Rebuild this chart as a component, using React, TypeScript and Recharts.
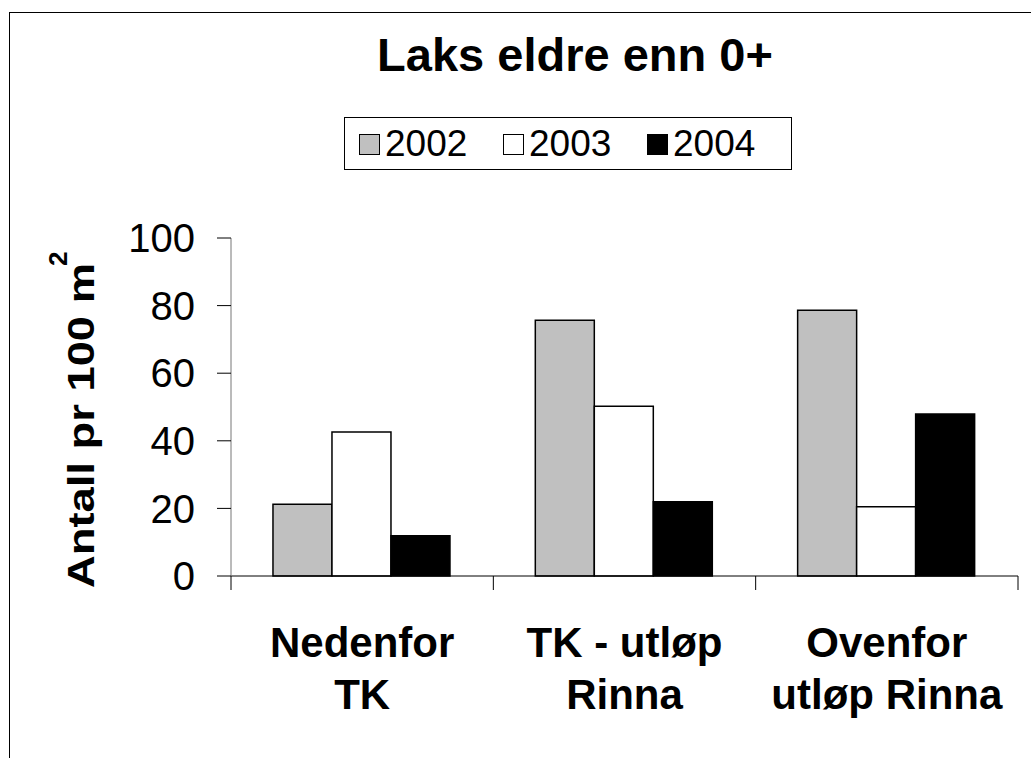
import { Bar, BarChart, XAxis, YAxis } from "recharts";

const CATEGORIES = ["Nedenfor\nTK", "TK - utløp\nRinna", "Ovenfor\nutløp Rinna"];
const YEARS = ["2002", "2003", "2004"];
const VALUES_2002 = [21.2, 75.7, 78.6];
const VALUES_2003 = [42.6, 50.2, 20.5];
const VALUES_2004 = [11.9, 22.0, 47.9];
const Y_TICKS = [0, 20, 40, 60, 80, 100];
const FILLS = ["#c0c0c0", "#ffffff", "#000000"];

const FONT = "'Liberation Sans', Arial, Helvetica, sans-serif";

const SERIES = [VALUES_2002, VALUES_2003, VALUES_2004];

const data = CATEGORIES.map((name, i) => {
  const row: Record<string, string | number> = { name };
  YEARS.forEach((year, s) => {
    row[year] = SERIES[s][i];
  });
  return row;
});

const CHART_W = 1031;
const CHART_H = 758;
const MARGIN = { top: 238, right: 13, bottom: 0, left: 131 };
const Y_AXIS_W = 100;
const X_AXIS_H = 182;
const PLOT_W = CHART_W - MARGIN.left - MARGIN.right - Y_AXIS_W;
const BAND = PLOT_W / CATEGORIES.length;

// two-line category label plus tick marks on the category boundaries
function CategoryTick(props: any) {
  const { x, y, payload, index } = props;
  const lines = String(payload.value).split("\n");
  const left = x - BAND / 2;
  const right = x + BAND / 2;
  return (
    <g>
      <line x1={left} x2={left} y1={y} y2={y + 14} stroke="#000" />
      {index === CATEGORIES.length - 1 && (
        <line x1={right} x2={right} y1={y} y2={y + 14} stroke="#000" />
      )}
      <text
        x={x}
        y={y}
        textAnchor="middle"
        fontFamily={FONT}
        fontSize={42}
        fontWeight={700}
        fill="#000"
      >
        {lines.map((line, i) => (
          <tspan key={i} x={x} dy={i === 0 ? 81 : 52}>
            {line}
          </tspan>
        ))}
      </text>
    </g>
  );
}

function Legend() {
  return (
    <div
      style={{
        position: "absolute",
        left: 344,
        top: 117,
        width: 448,
        height: 53,
        boxSizing: "border-box",
        border: "1px solid #000",
        display: "flex",
        alignItems: "center",
        paddingLeft: 14,
        fontFamily: FONT,
        fontSize: 37,
        lineHeight: 1,
        background: "#fff",
      }}
    >
      {YEARS.map((year, i) => (
        <div
          key={year}
          style={{ display: "flex", alignItems: "center", width: 148 }}
        >
          <div
            style={{
              width: 21,
              height: 21,
              boxSizing: "border-box",
              border: "1.5px solid #000",
              background: FILLS[i],
              marginRight: 5,
              marginTop: 2,
            }}
          />
          <span>{year}</span>
        </div>
      ))}
    </div>
  );
}

export default function App() {
  return (
    <div
      style={{
        position: "absolute",
        left: 0,
        top: 0,
        width: CHART_W,
        height: CHART_H,
        background: "#fff",
        overflow: "hidden",
      }}
    >
      <div
        style={{
          position: "absolute",
          left: 9,
          top: 12,
          width: 1022,
          height: 746,
          borderTop: "1px solid #000",
          borderLeft: "1px solid #000",
          boxSizing: "border-box",
        }}
      />
      <BarChart
        width={CHART_W}
        height={CHART_H}
        data={data}
        margin={MARGIN}
        barCategoryGap="16%"
        barGap={0}
        style={{ position: "absolute", left: 0, top: 0 }}
      >
        <XAxis
          dataKey="name"
          height={X_AXIS_H}
          tickLine={false}
          axisLine={{ stroke: "#000" }}
          tickSize={0}
          tickMargin={0}
          interval={0}
          tick={<CategoryTick />}
        />
        <YAxis
          type="number"
          domain={[0, 100]}
          ticks={Y_TICKS}
          width={Y_AXIS_W}
          tickSize={14}
          tickMargin={22}
          axisLine={{ stroke: "#777" }}
          tickLine={{ stroke: "#000" }}
          tick={{ fontSize: 40, fill: "#000", fontFamily: FONT }}
        />
        {YEARS.map((year, i) => (
          <Bar
            key={year}
            dataKey={year}
            fill={FILLS[i]}
            stroke="#000"
            strokeWidth={1.5}
            isAnimationActive={false}
          />
        ))}
      </BarChart>
      <svg
        width={CHART_W}
        height={CHART_H}
        style={{ position: "absolute", left: 0, top: 0, pointerEvents: "none" }}
      >
        <text
          x={575}
          y={71}
          textAnchor="middle"
          fontFamily={FONT}
          fontSize={47}
          fontWeight={700}
        >
          Laks eldre enn 0+
        </text>
        <g transform="translate(94, 588) rotate(-90)" fontFamily={FONT} fontWeight={700}>
          <text x={0} y={0} fontSize={36} textLength={325} lengthAdjust="spacingAndGlyphs">
            Antall pr 100 m
          </text>
          <text x={322} y={-27} fontSize={26}>
            2
          </text>
        </g>
      </svg>
      <Legend />
    </div>
  );
}
